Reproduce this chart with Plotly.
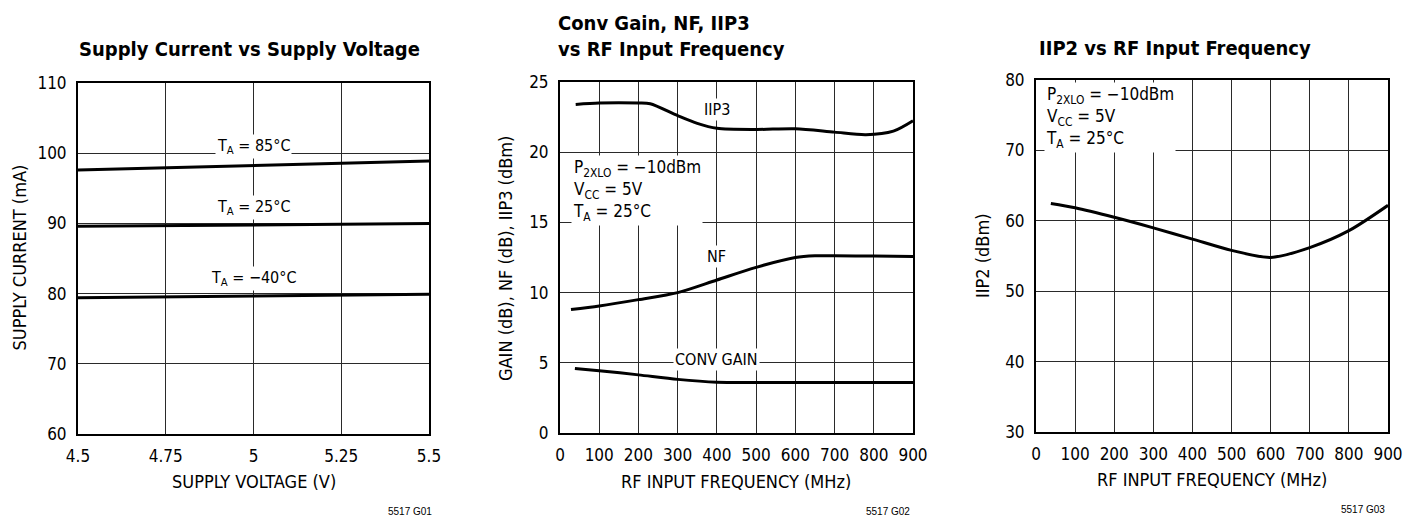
import plotly.graph_objects as go

# ---------------- data ----------------
# Chart 1: supply current vs supply voltage
volt = [4.5, 5.0, 5.5]
i_85 = [97.6, 98.3, 98.9]
i_25 = [89.6, 89.8, 89.97]
i_m40 = [79.4, 79.65, 79.9]
volt_ticks = [4.5, 4.75, 5, 5.25, 5.5]
volt_ticktext = ["4.5", "4.75", "5", "5.25", "5.5"]
curr_ticks = [60, 70, 80, 90, 100, 110]

# Chart 2: conv gain, NF, IIP3 vs RF freq
f_iip3 = [40, 100, 200, 230, 300, 350, 400, 500, 600, 700, 780, 850, 900]
iip3 = [23.4, 23.5, 23.5, 23.45, 22.6, 22.05, 21.7, 21.62, 21.67, 21.43, 21.25, 21.5, 22.24]
f_nf = [28, 100, 200, 300, 400, 500, 600, 650, 700, 800, 900]
nf = [8.8, 9.05, 9.5, 10.0, 10.9, 11.8, 12.5, 12.62, 12.62, 12.6, 12.58]
f_gain = [38, 100, 200, 300, 400, 500, 600, 700, 800, 900]
gain = [4.6, 4.44, 4.14, 3.82, 3.62, 3.6, 3.6, 3.6, 3.6, 3.6]
freq_ticks = [0, 100, 200, 300, 400, 500, 600, 700, 800, 900]
db_ticks = [0, 5, 10, 15, 20, 25]

# Chart 3: IIP2 vs RF freq
f_iip2 = [38, 100, 200, 300, 400, 500, 600, 700, 800, 900]
iip2 = [62.45, 61.85, 60.5, 59.0, 57.4, 55.8, 54.8, 56.2, 58.6, 62.2]
iip2_ticks = [30, 40, 50, 60, 70, 80]

# ---------------- style ----------------
# page body has an 8px margin; the figure is sized to fit inside the window
OFF = 8
W, H = 1419 - 2 * OFF, 517 - OFF
FONT = "DejaVu Sans Condensed, Liberation Sans Narrow, Arial Narrow, sans-serif"
LINE = dict(color="black", width=3)
GRID = "#2a2a2a"


def px_x(p):
    return (p - OFF) / W


def px_y(p):
    return 1 - (p - OFF) / H


fig = go.Figure()
fig.add_trace(go.Scatter(x=volt, y=i_85, mode="lines", line=LINE, xaxis="x", yaxis="y"))
fig.add_trace(go.Scatter(x=volt, y=i_25, mode="lines", line=LINE, xaxis="x", yaxis="y"))
fig.add_trace(go.Scatter(x=volt, y=i_m40, mode="lines", line=LINE, xaxis="x", yaxis="y"))

SPL = dict(LINE, shape="spline", smoothing=0.8)
fig.add_trace(go.Scatter(x=f_iip3, y=iip3, mode="lines", line=SPL, xaxis="x2", yaxis="y2"))
fig.add_trace(go.Scatter(x=f_nf, y=nf, mode="lines", line=SPL, xaxis="x2", yaxis="y2"))
fig.add_trace(go.Scatter(x=f_gain, y=gain, mode="lines", line=SPL, xaxis="x2", yaxis="y2"))

fig.add_trace(go.Scatter(x=f_iip2, y=iip2, mode="lines", line=SPL, xaxis="x3", yaxis="y3"))


def axis(dom, rng, tv, anchor, tt=None):
    d = dict(domain=dom, range=rng, tickvals=tv, anchor=anchor, automargin=False,
             showline=True, mirror=True, linecolor="black", linewidth=2,
             showgrid=True, gridcolor=GRID, gridwidth=1, zeroline=False,
             ticks="outside", ticklen=6, tickcolor="rgba(0,0,0,0)",
             tickfont=dict(family=FONT, size=17, color="black"), fixedrange=True)
    if tt is not None:
        d["ticktext"] = tt
    return d


fig.update_layout(
    template="none",
    width=W, height=H, margin=dict(l=0, r=0, t=0, b=0),
    paper_bgcolor="white", plot_bgcolor="white", showlegend=False,
    xaxis=axis([px_x(78), px_x(429)], [4.5, 5.5], volt_ticks, "y", volt_ticktext),
    yaxis=axis([px_y(434), px_y(83)], [60, 110], curr_ticks, "x"),
    xaxis2=axis([px_x(560), px_x(913)], [0, 900], freq_ticks, "y2", [str(v) for v in freq_ticks]),
    yaxis2=axis([px_y(433), px_y(82)], [0, 25], db_ticks, "x2"),
    xaxis3=axis([px_x(1036), px_x(1388)], [0, 900], freq_ticks, "y3", [str(v) for v in freq_ticks]),
    yaxis3=axis([px_y(432), px_y(80)], [30, 80], iip2_ticks, "x3"),
)

ann = []


def label(text, x, y, xref, yref, size=16, xanchor="center", yanchor="middle", bg="white",
          family=FONT, bold=False, color="black", align="center"):
    ann.append(dict(text=f"<b>{text}</b>" if bold else text, x=x, y=y, xref=xref, yref=yref,
                    xanchor=xanchor, yanchor=yanchor, showarrow=False, align=align,
                    bgcolor=bg, borderpad=1,
                    font=dict(family=family, size=size, color=color)))


# curve labels
label("T<sub>A</sub> = 85°C", 5.0, 100.9, "x", "y")
label("T<sub>A</sub> = 25°C", 5.0, 92.3, "x", "y")
label("T<sub>A</sub> = −40°C", 5.0, 82.2, "x", "y")
label("IIP3", 400, 23.05, "x2", "y2")
label("NF", 400, 12.6, "x2", "y2")
label("CONV GAIN", 400, 5.26, "x2", "y2")

# condition blocks
cond_text = "<br>".join(["P<sub>2XLO</sub> = −10dBm", "V<sub>CC</sub> = 5V", "T<sub>A</sub> = 25°C"])
label(cond_text, px_x(571), px_y(190), "paper", "paper", xanchor="left", size=17, align="left")
label(cond_text, px_x(1044), px_y(117), "paper", "paper", xanchor="left", size=17, align="left")

# titles
TS = 20
label("Supply Current vs Supply Voltage", px_x(249), px_y(49), "paper", "paper", size=TS, bold=True, bg=None)
label("Conv Gain, NF, IIP3", px_x(556), px_y(23), "paper", "paper", size=TS, bold=True, bg=None, xanchor="left")
label("vs RF Input Frequency", px_x(556), px_y(49), "paper", "paper", size=TS, bold=True, bg=None, xanchor="left")
label("IIP2 vs RF Input Frequency", px_x(1037), px_y(48), "paper", "paper", size=TS, bold=True, bg=None, xanchor="left")

# axis titles
label("SUPPLY VOLTAGE (V)", px_x(254), px_y(481), "paper", "paper", size=18, bg=None)
label("RF INPUT FREQUENCY (MHz)", px_x(736), px_y(481), "paper", "paper", size=18, bg=None)
label("RF INPUT FREQUENCY (MHz)", px_x(1212), px_y(479), "paper", "paper", size=18, bg=None)
for txt, xp, yp in [("SUPPLY CURRENT (mA)", 18.5, 258), ("GAIN (dB), NF (dB), IIP3 (dBm)", 505, 258), ("IIP2 (dBm)", 982, 256)]:
    ann.append(dict(text=txt, x=px_x(xp), y=px_y(yp), xref="paper", yref="paper", textangle=-90,
                    xanchor="center", yanchor="middle", showarrow=False,
                    font=dict(family=FONT, size=18, color="black")))

# footnotes
for txt, xp, yp in [("5517 G01", 410, 511), ("5517 G02", 888, 511), ("5517 G03", 1363, 509)]:
    label(txt, px_x(xp), px_y(yp), "paper", "paper", size=10, bg=None, family="Liberation Sans, Arial, sans-serif")

fig.update_layout(annotations=ann)
fig.write_html("out.html")
